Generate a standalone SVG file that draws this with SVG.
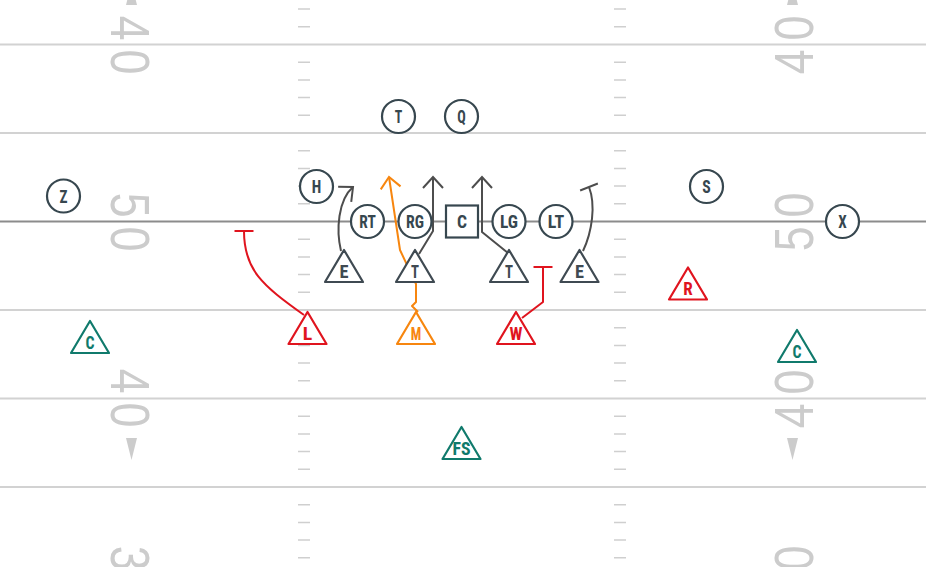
<svg xmlns="http://www.w3.org/2000/svg" width="926" height="567" viewBox="0 0 926 567">
<style>
.yl{stroke:#d2d2d2;stroke-width:2;fill:none}
.los{stroke:#8c8c8c;stroke-width:2;fill:none}
.hash{stroke:#cfcfcf;stroke-width:1.5;fill:none}
.num{font-family:"Liberation Sans",Arial,sans-serif;font-size:56px;fill:#cccccc;text-anchor:middle}
.dir{fill:#cccccc}
.off circle,.off rect{fill:#fff;stroke:#37474f;stroke-width:2.2}
.lbl{font-family:"Liberation Sans Narrow","Roboto Condensed","DejaVu Sans Condensed","Liberation Sans",sans-serif;font-weight:bold;font-size:18.5px;text-anchor:middle}
.off text{fill:#37474f}
.tri{fill:#fff;stroke-width:2.2;stroke-linejoin:round}
.dl .tri{stroke:#3f4a52}.dl text{fill:#3f4a52}
.red .tri{stroke:#e0141e}.red text{fill:#e0141e}
.org .tri{stroke:#f7860f}.org text{fill:#f7860f}
.teal .tri{stroke:#107a6c}.teal text{fill:#107a6c}
.rg{stroke:#4d4d4d;stroke-width:2;fill:none;stroke-linejoin:round}
.rr{stroke:#e0141e;stroke-width:2;fill:none;stroke-linejoin:round}
.ro{stroke:#f7860f;stroke-width:2;fill:none;stroke-linejoin:round}
</style>
<defs>
<path id="t" d="M0,0 L19,32 L-19,32 Z"/>
<marker id="aG" markerUnits="userSpaceOnUse" markerWidth="30" markerHeight="30" viewBox="-15 -15 30 30" refX="0" refY="0" orient="auto" overflow="visible"><path d="M-11,-10 L0,0 L-11,10" fill="none" stroke="#4d4d4d" stroke-width="2"/></marker>
<marker id="aO" markerUnits="userSpaceOnUse" markerWidth="30" markerHeight="30" viewBox="-15 -15 30 30" refX="0" refY="0" orient="auto" overflow="visible"><path d="M-11,-10 L0,0 L-11,10" fill="none" stroke="#f7860f" stroke-width="2"/></marker>
<marker id="bG" markerUnits="userSpaceOnUse" markerWidth="30" markerHeight="30" viewBox="-15 -15 30 30" refX="0" refY="0" orient="auto" overflow="visible"><path d="M0,-9.5 L0,9.5" fill="none" stroke="#4d4d4d" stroke-width="2"/></marker>
<marker id="bR" markerUnits="userSpaceOnUse" markerWidth="30" markerHeight="30" viewBox="-15 -15 30 30" refX="0" refY="0" orient="auto" overflow="visible"><path d="M0,-9.5 L0,9.5" fill="none" stroke="#e0141e" stroke-width="2"/></marker>
</defs>
<rect width="926" height="567" fill="#fff"/>
<g id="field">
<path class="yl" d="M0,44.5H926M0,133H926M0,310H926M0,398.5H926M0,487H926"/>
<path class="los" d="M0,221.5H926"/>
<path class="hash" d="M298,9.1h12M298,26.8h12M298,62.2h12M298,79.9h12M298,97.6h12M298,115.3h12M298,150.7h12M298,168.4h12M298,186.1h12M298,203.8h12M298,239.2h12M298,256.9h12M298,274.6h12M298,292.3h12M298,327.7h12M298,345.4h12M298,363.1h12M298,380.8h12M298,416.2h12M298,433.9h12M298,451.6h12M298,469.3h12M298,504.7h12M298,522.4h12M298,540.1h12M298,557.8h12
M614,9.1h12M614,26.8h12M614,62.2h12M614,79.9h12M614,97.6h12M614,115.3h12M614,150.7h12M614,168.4h12M614,186.1h12M614,203.8h12M614,239.2h12M614,256.9h12M614,274.6h12M614,292.3h12M614,327.7h12M614,345.4h12M614,363.1h12M614,380.8h12M614,416.2h12M614,433.9h12M614,451.6h12M614,469.3h12M614,504.7h12M614,522.4h12M614,540.1h12M614,557.8h12"/>
<text class="num" transform="translate(111,45) rotate(90) scale(0.8,1)">4<tspan dx="11">0</tspan></text>
<text class="num" transform="translate(111,222) rotate(90) scale(0.8,1)">5<tspan dx="11">0</tspan></text>
<text class="num" transform="translate(111,398) rotate(90) scale(0.8,1)">4<tspan dx="11">0</tspan></text>
<text class="num" transform="translate(111,575) rotate(90) scale(0.8,1)">3<tspan dx="11">0</tspan></text>
<text class="num" transform="translate(813,45) rotate(-90) scale(0.8,1)">4<tspan dx="11">0</tspan></text>
<text class="num" transform="translate(813,222) rotate(-90) scale(0.8,1)">5<tspan dx="11">0</tspan></text>
<text class="num" transform="translate(813,399) rotate(-90) scale(0.8,1)">4<tspan dx="11">0</tspan></text>
<text class="num" transform="translate(813,575) rotate(-90) scale(0.8,1)">3<tspan dx="11">0</tspan></text>
<polygon class="dir" points="126,5 137,5 131.5,-17"/>
<polygon class="dir" points="126,438 137,438 131.5,460"/>
<polygon class="dir" points="787,5 798,5 792.5,-17"/>
<polygon class="dir" points="787,438 798,438 792.5,460"/>
</g>
<g id="connectors">
<path class="rg" d="M341,251 C336,230 338,200 353,187" marker-end="url(#aG)"/>
<path class="rg" d="M419,254 L433,231 L433,177" marker-end="url(#aG)"/>
<path class="rg" d="M508,253 L482,232 L482,177" marker-end="url(#aG)"/>
<path class="rg" d="M583,251 C592,232 596,205 589,187" marker-end="url(#bG)"/>
<path class="rr" d="M304,315 C262,285 244,270 244,231" marker-end="url(#bR)"/>
<path class="rr" d="M522,318 L543,302 L543,267" marker-end="url(#bR)"/>
<path class="ro" d="M418,312 L412,306 L416,302 L416,284 L400,250 L389,177" marker-end="url(#aO)"/>
</g>
<g id="n-T" class="off"><circle cx="398.5" cy="116.5" r="16.5"/><text class="lbl" x="398.5" y="123.3" textLength="7.5" lengthAdjust="spacingAndGlyphs">T</text></g>
<g id="n-Q" class="off"><circle cx="461.5" cy="116.5" r="16.5"/><text class="lbl" x="461.5" y="123.3" textLength="8.5" lengthAdjust="spacingAndGlyphs">Q</text></g>
<g id="n-H" class="off"><circle cx="316.5" cy="186.5" r="16.5"/><text class="lbl" x="316.5" y="193.3" textLength="9.5" lengthAdjust="spacingAndGlyphs">H</text></g>
<g id="n-Z" class="off"><circle cx="63.5" cy="196" r="16.5"/><text class="lbl" x="63.5" y="202.8" textLength="8" lengthAdjust="spacingAndGlyphs">Z</text></g>
<g id="n-S" class="off"><circle cx="706.5" cy="186.5" r="16.5"/><text class="lbl" x="706.5" y="193.3" textLength="8.5" lengthAdjust="spacingAndGlyphs">S</text></g>
<g id="n-X" class="off"><circle cx="842.5" cy="221.5" r="16.5"/><text class="lbl" x="842.5" y="228.3" textLength="8.5" lengthAdjust="spacingAndGlyphs">X</text></g>
<g id="n-RT" class="off"><circle cx="367.5" cy="221.5" r="16.5"/><text class="lbl" x="367.5" y="228.3" textLength="16.5" lengthAdjust="spacingAndGlyphs">RT</text></g>
<g id="n-RG" class="off"><circle cx="415" cy="221.5" r="16.5"/><text class="lbl" x="415" y="228.3" textLength="18" lengthAdjust="spacingAndGlyphs">RG</text></g>
<g id="n-C" class="off"><rect x="446" y="205.5" width="32" height="32"/><text class="lbl" x="462" y="228.3" textLength="10" lengthAdjust="spacingAndGlyphs">C</text></g>
<g id="n-LG" class="off"><circle cx="509" cy="221.5" r="16.5"/><text class="lbl" x="509" y="228.3" textLength="18" lengthAdjust="spacingAndGlyphs">LG</text></g>
<g id="n-LT" class="off"><circle cx="556" cy="221.5" r="16.5"/><text class="lbl" x="556" y="228.3" textLength="16.5" lengthAdjust="spacingAndGlyphs">LT</text></g>
<g id="d-E1" class="dl"><use class="tri" href="#t" x="344" y="250"/><text class="lbl" x="344" y="277.5" textLength="9" lengthAdjust="spacingAndGlyphs">E</text></g>
<g id="d-T1" class="dl"><use class="tri" href="#t" x="415" y="250"/><text class="lbl" x="415" y="277.5" textLength="8" lengthAdjust="spacingAndGlyphs">T</text></g>
<g id="d-T2" class="dl"><use class="tri" href="#t" x="509" y="250"/><text class="lbl" x="509" y="277.5" textLength="8" lengthAdjust="spacingAndGlyphs">T</text></g>
<g id="d-E2" class="dl"><use class="tri" href="#t" x="579.5" y="250"/><text class="lbl" x="579.5" y="277.5" textLength="9" lengthAdjust="spacingAndGlyphs">E</text></g>
<g id="d-L" class="red"><use class="tri" href="#t" x="307.5" y="312"/><text class="lbl" x="307.5" y="339.5" textLength="9.5" lengthAdjust="spacingAndGlyphs">L</text></g>
<g id="d-M" class="org"><use class="tri" href="#t" x="416" y="312"/><text class="lbl" x="416" y="339.5" textLength="10.5" lengthAdjust="spacingAndGlyphs">M</text></g>
<g id="d-W" class="red"><use class="tri" href="#t" x="516" y="312"/><text class="lbl" x="516" y="339.5" textLength="13" lengthAdjust="spacingAndGlyphs">W</text></g>
<g id="d-R" class="red"><use class="tri" href="#t" x="688" y="267.5"/><text class="lbl" x="688" y="295" textLength="9.5" lengthAdjust="spacingAndGlyphs">R</text></g>
<g id="d-C1" class="teal"><use class="tri" href="#t" x="90" y="321"/><text class="lbl" x="90" y="348.5" textLength="9" lengthAdjust="spacingAndGlyphs">C</text></g>
<g id="d-C2" class="teal"><use class="tri" href="#t" x="797" y="330"/><text class="lbl" x="797" y="357.5" textLength="9" lengthAdjust="spacingAndGlyphs">C</text></g>
<g id="d-FS" class="teal"><use class="tri" href="#t" x="461.5" y="427"/><text class="lbl" x="461.5" y="454.5" textLength="18" lengthAdjust="spacingAndGlyphs">FS</text></g>
</svg>
